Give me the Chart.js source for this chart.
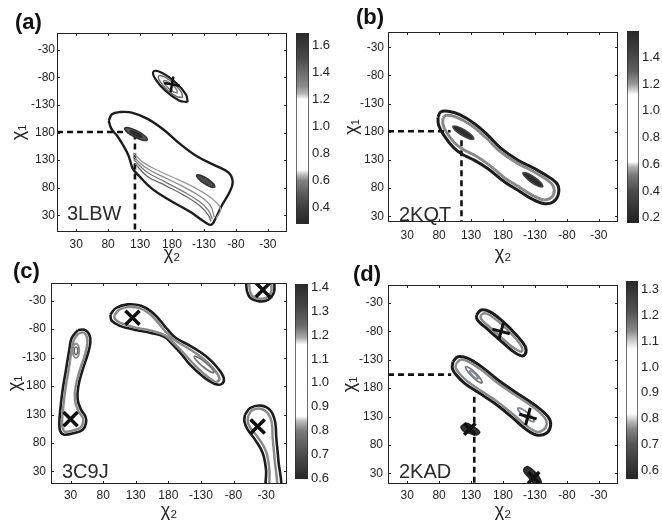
<!DOCTYPE html>
<html>
<head>
<meta charset="utf-8">
<script src="https://cdn.jsdelivr.net/npm/chart.js@4.4.1/dist/chart.umd.min.js"></script>
<style>
  body { margin: 0; background: #fff; }
  #wrap { position: relative; width: 662px; height: 520px; overflow: hidden; }
  canvas { position: absolute; }
</style>
</head>
<body>
<div id="wrap">
  <canvas id="pa" width="331" height="268" style="left:0;top:0"></canvas>
  <canvas id="pb" width="331" height="268" style="left:331px;top:0"></canvas>
  <canvas id="pc" width="331" height="260" style="left:0;top:260px"></canvas>
  <canvas id="pd" width="331" height="260" style="left:331px;top:260px"></canvas>
  <canvas id="ca" width="45" height="215" style="left:290px;top:20px"></canvas>
  <canvas id="cb" width="41" height="215" style="left:621px;top:20px"></canvas>
  <canvas id="cc" width="46" height="220" style="left:289px;top:270px"></canvas>
  <canvas id="cd" width="42" height="220" style="left:620px;top:270px"></canvas>
</div>
<script>
// angle ticks (chi2 / chi1), shown as -180..180
const angTicks = [30, 80, 130, 180, 230, 280, 330];

// ---- panel (a) 3LBW ----
const aOuter = [[81,201],[86,213],[99,217],[117,216],[141,205],[167,185],[193,159],[219,137],[248,120],[269,107],[275,90],[270,72],[258,48],[248,24],[241,13],[230,19],[209,36],[177,57],[149,78],[128,102],[119,114],[116,123],[112,138],[104,156],[94,174],[85,187]];
const aFan1 = [[119,143],[136,125],[162,109],[193,93],[219,78],[243,60],[256,42],[249,24]];
const aFan2 = [[119,137],[138,117],[164,101],[196,83],[222,66],[240,48],[246,27]];
const aFan3 = [[120,131],[140,109],[167,92],[198,73],[223,55],[237,39],[243,23]];
const aFan4 = [[121,125],[141,101],[170,84],[201,65],[224,47],[237,30],[241,19]];
const aPeak1 = [[142,166],[138.7,172.8],[127,182],[113.5,188.2],[106,188],[109.3,181.2],[121,172],[134.5,165.8]];
const aPeak1b = [[133.9,170.9],[132.1,174.6],[125.7,179.8],[118.3,183.2],[114.1,183.1],[115.9,179.4],[122.4,174.3],[129.7,170.8]];
const aPeak2 = [[247.5,80.7],[245.4,86.7],[236.3,95.7],[225.4,102.3],[218.9,102.9],[221,96.9],[230.1,87.9],[241,81.3]];
const aUp1 = [[204.5,234.9],[202,248.6],[185.8,270.4],[164.8,287.6],[151.3,290.7],[153.8,277],[170,255.2],[191,238]];
const aUp2 = [[196.5,243.3],[194.8,252.8],[183.4,268.1],[168.8,280.2],[159.3,282.3],[161,272.8],[172.4,257.5],[187,245.4]];
const aUp3 = [[188.5,251.6],[187.5,257.1],[181.1,265.8],[172.7,272.7],[167.3,274],[168.3,268.5],[174.7,259.8],[183.1,252.9]];
const aPlus = [[180,267]];
const aDashH = [[0,181],[120,181]];
const aDashV = [[122,178],[122,0]];

// ---- panel (b) 2KQT ----
const bOuter = [[78.3,206.2],[82.4,215.1],[93.9,216.3],[112.2,210.4],[135.6,194.4],[156.5,173.7],[177.4,150.1],[203.5,129.4],[229.5,114.6],[255.6,96.9],[266.1,85],[266.1,67.3],[258.2,55.5],[245.2,52.5],[224.3,61.4],[203.5,76.2],[182.6,91],[156.5,114.6],[135.6,129.4],[114.8,141.2],[101.7,153],[87.6,173.7],[79.3,191.5]];
const bInner = [[86.1,204.5],[91.3,209.2],[107,206.2],[130.4,191.5],[153.9,169],[174.8,145.9],[200.9,125.3],[226.9,109.9],[250.4,93.9],[259.3,82.1],[259.3,69.1],[253,61.4],[242.6,59.6],[224.3,68.5],[203.5,83.3],[182.6,98.1],[159.1,120.5],[138.3,136.5],[117.4,148.9],[104.3,160.1],[91.3,179.6],[86.1,192.6]];
const bPeak1 = [[134.7,166.7],[131.8,173],[121.1,182.3],[108.7,189.2],[101.7,189.7],[104.6,183.4],[115.3,174.1],[127.8,167.3]];
const bPeak2 = [[242.6,82.1],[240.1,88.6],[230.2,98.7],[218.3,106.4],[211.4,107.5],[213.9,101],[223.8,90.9],[235.7,83.2]];
const bDashH = [[0,181],[98,181]];
const bDashV = [[115,165],[115,20]];

// ---- panel (c) 3C9J ----
const cLeft = [[40.9,277.9],[51.1,279],[58.8,270.3],[60.3,255.6],[56.2,235.1],[48.6,208.8],[41.9,179.5],[40.9,156.1],[46,138.6],[52.7,126.8],[53.7,115.1],[48.6,103.4],[35.8,97.6],[20.5,94.6],[14.3,100.5],[12.8,115.1],[14.3,138.6],[17.9,173.7],[23,208.8],[28.1,243.9],[31.7,264.4]];
const cLeftIn = [[42.9,273.2],[50.1,273.8],[54.7,267.3],[55.7,254.5],[52.2,235.1],[44.5,208.8],[37.8,179.5],[36.8,154.9],[41.9,136.2],[48.6,124.5],[49.1,115.1],[45,106.9],[34.8,102.3],[21.5,99.9],[18.4,104.6],[16.9,115.1],[18.4,138.6],[22,173.7],[27.1,208.8],[31.7,243.9],[35.8,262.7]];
const cLeftPeak = [[38.3,255.2],[41.8,251.4],[43.3,242.2],[41.8,233],[38.3,229.2],[34.8,233],[33.3,242.2],[34.8,251.4]];
const cLeftPeak2 = [[38.3,249],[40.3,246.5],[41,242],[40.3,237.5],[38.3,235],[36.3,237.5],[35.6,242],[36.3,246.5]];
const cMid = [[91,305.4],[99.7,317.1],[117.6,323.5],[138.1,321.2],[153.4,311.2],[166.2,296.6],[179,279],[191.7,264.4],[214.7,249.8],[237.8,232.2],[255.7,211.7],[264.9,194.2],[261.8,183.6],[250.5,184.2],[232.6,197.1],[214.7,215.8],[199.4,236.9],[186.6,252.7],[173.8,266.2],[153.4,273.2],[127.8,279],[104.8,286.1],[93.1,294.8]];
const cMidIn = [[97.1,304.2],[104.8,314.2],[118.6,318.9],[137,316.5],[150.3,307.7],[162.6,293.7],[176.4,274.9],[190.2,260.3],[212.2,245.1],[234.2,227.5],[250.5,208.8],[258.2,194.2],[255.7,188.3],[249.5,188.9],[234.2,201.8],[217.3,220.5],[202,239.8],[188.2,255.6],[174.9,269.1],[153.4,277.3],[127.8,283.1],[106.4,290.8],[98.2,297.8]];
const cMidPeak = [[250.5,203],[247.9,209.4],[238,220.5],[226.5,229.8],[219.9,232.2],[222.5,225.8],[232.4,214.7],[243.9,205.4]];
const cTop = [[300.6,346.4],[305.8,334.7],[319.6,328.8],[333.4,331.7],[341.6,343.4],[342.6,358.1],[341.6,369.8],[301.7,369.8],[299.6,358.1]];
const cTopIn = [[305.3,346.4],[309.3,337.6],[320.1,333.5],[331.3,335.8],[337.5,344.6],[338,358.1],[337.5,369.8],[305.8,369.8],[304.2,358.1]];
const cBot = [[297.6,129.8],[305.8,141.5],[322.1,145.6],[336.4,137.4],[343.6,118.1],[345.6,88.8],[348.7,50.7],[351.8,-7.8],[331.3,-7.8],[329.8,33.2],[324.7,62.4],[312.9,85.9],[301.7,103.4],[296.6,118.1]];
const cBotIn = [[302.7,128],[308.3,137.4],[321.1,140.3],[332.3,132.7],[338.5,116.3],[340,88.8],[343.1,50.7],[346.7,-7.8],[336.4,-7.8],[334.9,33.2],[329.8,65.4],[317,90.5],[305.8,106.4],[301.7,118.1]];
const cX = [[30,122],[125,300],[325,349],[317,109]];

// ---- panel (d) 2KAD ----
const dUp = [[138.3,309.1],[146.1,317.9],[159.1,315],[180,297.3],[200.9,273.8],[214.9,253.2],[214.9,240.3],[207.6,237.4],[193,247.4],[172.2,267.9],[151.3,288.5],[139.8,300.3]];
const dUpIn = [[144.5,307.9],[150.3,312],[159.1,309.1],[177.4,293.2],[197.2,270.9],[209.7,252.1],[208.7,244.4],[194.1,253.2],[174.8,272],[155.5,291.5],[146.1,301.4]];
const dMid = [[101.7,226.8],[109.6,235.6],[125.2,232.7],[146.1,218],[172.2,194.4],[198.2,173.9],[229.5,150.4],[250.4,129.8],[254.6,115.1],[247.8,100.4],[232.2,97.5],[213.9,109.2],[193,129.8],[166.9,153.3],[143.5,170.9],[120,188.6],[106.9,203.3],[100.7,215]];
const dMidIn = [[106.9,223.8],[113.7,230.3],[125.2,227.4],[145,213.3],[171.1,189.7],[197.2,169.2],[226.9,146.8],[245.2,128],[248.3,116.3],[243.1,106.3],[232.2,103.3],[216,114.5],[195.6,133.9],[169.6,157.4],[146.1,175],[123.6,192.7],[111.1,206.8],[105.9,216.2]];
const dPeak1 = [[147.6,188.6],[145.8,194.8],[137.6,205.9],[127.6,215.4],[121.6,218],[123.4,211.8],[131.6,200.7],[141.6,191.2]];
const dPeak1b = [[141.1,196],[140.4,199.3],[136.4,204.9],[131.3,209.5],[128.1,210.7],[128.8,207.3],[132.8,201.7],[137.9,197.1]];
const dPeak2 = [[229.5,120.7],[227.6,126.4],[219.3,135.7],[209.4,143.2],[203.5,144.7],[205.4,139],[213.7,129.7],[223.6,122.2]];
const dBlob1 = [[113.7,112.1],[122.6,118],[133,112.1],[143.5,103.3],[138.3,97.4],[127.8,100.4],[117.4,105.1]];
const dBlob2 = [[212.9,38.7],[219.1,41.6],[229.5,32.8],[238.9,18.1],[237.4,9.3],[229.5,11],[219.1,24],[212.9,32.8]];
const dPlus = [[177,280],[219,130]];
const dX = [[128,108],[228,22]];
const dDashH = [[0,204],[99,204]];
const dDashV = [[135,165],[135,11]];

// ---- colorbars ----
const aBar = [0.28, 1.69];
const aBarTicks = [0.4, 0.6, 0.8, 1.0, 1.2, 1.4, 1.6];
const aStops = [[1.69,'#2b2b2b'],[1.52,'#454545'],[1.42,'#666'],[1.3,'#8a8a8a'],[1.24,'#b8b8b8'],[1.2,'#fff'],[0.68,'#fff'],[0.65,'#c4c4c4'],[0.6,'#828282'],[0.5,'#5a5a5a'],[0.4,'#3d3d3d'],[0.28,'#262626']];
const bBar = [0.16, 1.6];
const bBarTicks = [0.2, 0.4, 0.6, 0.8, 1.0, 1.2, 1.4];
const bStops = [[1.6,'#2a2a2a'],[1.45,'#404040'],[1.3,'#5e5e5e'],[1.2,'#9a9a9a'],[1.15,'#d8d8d8'],[1.12,'#fff'],[0.62,'#fff'],[0.58,'#b0b0b0'],[0.52,'#7a7a7a'],[0.4,'#4c4c4c'],[0.25,'#303030'],[0.16,'#222']];
const cBar = [0.595, 1.415];
const cBarTicks = [0.6, 0.7, 0.8, 0.9, 1.0, 1.1, 1.2, 1.3, 1.4];
const cStops = [[1.415,'#2a2a2a'],[1.32,'#454545'],[1.24,'#6a6a6a'],[1.19,'#a8a8a8'],[1.16,'#fff'],[0.86,'#fff'],[0.84,'#bcbcbc'],[0.8,'#7c7c7c'],[0.72,'#555'],[0.64,'#383838'],[0.595,'#262626']];
const dBar = [0.565, 1.334];
const dBarTicks = [0.6, 0.7, 0.8, 0.9, 1.0, 1.1, 1.2, 1.3];
const dStops = [[1.334,'#2a2a2a'],[1.22,'#505050'],[1.14,'#8a8a8a'],[1.1,'#d0d0d0'],[1.07,'#fff'],[0.82,'#fff'],[0.79,'#bcbcbc'],[0.76,'#858585'],[0.7,'#555'],[0.62,'#383838'],[0.565,'#262626']];

const FONT = '"Liberation Sans", Arial, sans-serif';
const DARK = '#1c1c1c';
const GRAY = '#8a8a8a';

const toXY = arr => arr.map(([x, y]) => ({ x, y }));
const closed = arr => arr.concat([arr[0]]);
const angLabel = v => (v > 180 ? v - 360 : v);

function curve(arr, color, width, extra) {
    return Object.assign({ data: toXY(arr), borderColor: color, borderWidth: width, pointRadius: 0,
        tension: 0.4, fill: false, order: 1 }, extra);
}
function ring(arr, color, width, extra) { return curve(closed(arr), color, width, extra); }
function blob(arr, fillCol, color, width) {
    return ring(arr, color, width, { fill: 'shape', backgroundColor: fillCol });
}
function dash(arr) { return curve(arr, '#111', 2.6, { tension: 0, borderDash: [6, 4], order: 2 }); }
function marks(arr, style, r, w, rot) {
    return { data: toXY(arr), showLine: false, pointStyle: style, pointRadius: r, borderWidth: w,
        borderColor: '#111', backgroundColor: '#111', pointRotation: rot || 0, order: 0 };
}

// box, inward ticks, structure name and panel tag
const frame = {
    id: 'frame',
    afterDatasetsDraw(chart, args, o) {
        const { ctx, chartArea: a, scales: { x, y } } = chart;
        ctx.save();
        ctx.strokeStyle = '#222';
        ctx.lineWidth = 1;
        ctx.strokeRect(a.left + 0.5, a.top + 0.5, a.width - 1, a.height - 1);
        ctx.beginPath();
        x.ticks.forEach(t => {
            const px = Math.round(x.getPixelForValue(t.value)) + 0.5;
            ctx.moveTo(px, a.bottom); ctx.lineTo(px, a.bottom - 3);
            ctx.moveTo(px, a.top); ctx.lineTo(px, a.top + 3);
        });
        y.ticks.forEach(t => {
            const py = Math.round(y.getPixelForValue(t.value)) + 0.5;
            ctx.moveTo(a.left, py); ctx.lineTo(a.left + 3, py);
            ctx.moveTo(a.right, py); ctx.lineTo(a.right - 3, py);
        });
        ctx.stroke();
        ctx.fillStyle = '#2a2a2a';
        ctx.font = '20px ' + FONT;
        ctx.fillText(o.name, a.left + o.nx, a.bottom - o.ny);
        ctx.fillStyle = '#111';
        ctx.font = 'bold 22px ' + FONT;
        ctx.fillText(o.tag, o.tx, o.ty);
        ctx.restore();
    }
};

function panel(id, p) {
    new Chart(document.getElementById(id), {
        type: 'line',
        data: { datasets: p.sets },
        options: {
            responsive: false, animation: false, events: [],
            layout: { padding: { left: 0, top: p.top, right: 44, bottom: 0 } },
            plugins: {
                legend: { display: false }, tooltip: { enabled: false },
                frame: { name: p.name, tag: p.tag, tx: p.tx, ty: p.ty, nx: p.nx, ny: p.ny }
            },
            scales: {
                x: {
                    type: 'linear', min: p.xr[0], max: p.xr[1],
                    afterBuildTicks: s => { s.ticks = angTicks.map(v => ({ value: v })); },
                    afterFit: s => { s.height = p.xh; },
                    grid: { display: false, drawTicks: false }, border: { display: false },
                    ticks: { padding: p.xpad, color: '#222', autoSkip: false, maxRotation: 0,
                        font: { size: 12, family: FONT }, callback: v => angLabel(v) },
                    title: { display: true, text: 'χ₂', color: '#222',
                        font: { size: 18, family: FONT, lineHeight: 1 }, padding: { top: 0, bottom: p.pb } }
                },
                y: {
                    type: 'linear', min: p.yr[0], max: p.yr[1],
                    afterBuildTicks: s => { s.ticks = angTicks.map(v => ({ value: v })); },
                    afterFit: s => { s.width = p.yw; },
                    grid: { display: false, drawTicks: false }, border: { display: false },
                    ticks: { padding: p.ypad, color: '#222', autoSkip: false,
                        font: { size: 12, family: FONT }, callback: v => angLabel(v) },
                    title: { display: true, text: 'χ₁', color: '#222',
                        font: { size: 18, family: FONT, lineHeight: 1 }, padding: { top: p.pt, bottom: 0 } }
                }
            }
        },
        plugins: [frame]
    });
}

function barFill(c, stops) {
    const chart = c.chart, a = chart.chartArea;
    if (!a) return '#888';
    const y = chart.scales.y;
    const g = chart.ctx.createLinearGradient(0, a.bottom, 0, a.top);
    stops.forEach(([v, col]) => {
        const off = (y.getPixelForValue(v) - a.bottom) / (a.top - a.bottom);
        g.addColorStop(Math.min(1, Math.max(0, off)), col);
    });
    return g;
}

function colorbar(id, range, ticks, stops, pad, w) {
    new Chart(document.getElementById(id), {
        type: 'bar',
        data: { labels: [''], datasets: [{ data: [range], backgroundColor: c => barFill(c, stops),
            borderColor: '#2a2a2a', borderWidth: 1, borderSkipped: false,
            barPercentage: 1, categoryPercentage: 1 }] },
        options: {
            responsive: false, animation: false, events: [],
            layout: { padding: { left: pad[0], top: pad[1], right: 0, bottom: pad[2] } },
            plugins: { legend: { display: false }, tooltip: { enabled: false } },
            scales: {
                x: { display: false },
                y: {
                    position: 'right', min: range[0], max: range[1],
                    afterBuildTicks: s => { s.ticks = ticks.map(v => ({ value: v })); },
                    afterFit: s => { s.width = w; },
                    grid: { display: false, drawTicks: false }, border: { display: false },
                    ticks: { padding: 3, color: '#222', font: { size: 13, family: FONT },
                        callback: v => Number(v).toFixed(1) }
                }
            }
        }
    });
}

panel('pa', {
    xr: [0, 360], yr: [0, 360], top: 33, xh: 36, yw: 57, xpad: 5, ypad: 2, pt: 10.5, pb: 4.5,
    name: '3LBW', nx: 10, ny: 12, tag: '(a)', tx: 15, ty: 29,
    sets: [
        marks(aPlus, 'cross', 8, 2.5, 10),
        blob(aPeak1b, '#2a2a2a', '#333', 1.2),
        blob(aPeak1, '#5a5a5a', '#333', 1.5),
        blob(aPeak2, '#4a4a4a', '#333', 1.5),
        ring(aUp3, '#777', 1.4),
        ring(aUp2, '#666', 1.4),
        ring(aUp1, DARK, 2.2),
        curve(aFan1, '#999', 1.3),
        curve(aFan2, '#888', 1.3),
        curve(aFan3, '#777', 1.3),
        curve(aFan4, '#666', 1.3),
        ring(aOuter, DARK, 2.4),
        dash(aDashH), dash(aDashV)
    ]
});

panel('pb', {
    xr: [0, 360], yr: [20, 357], top: 32, xh: 46, yw: 57, xpad: 6, ypad: 4, pt: 12.5, pb: 4.5,
    name: '2KQT', nx: 11, ny: 1, tag: '(b)', tx: 25, ty: 24,
    sets: [
        blob(bPeak1, '#2e2e2e', '#444', 1.5),
        blob(bPeak2, '#2e2e2e', '#444', 1.5),
        ring(bInner, GRAY, 3),
        ring(bOuter, DARK, 3),
        dash(bDashH), dash(bDashV)
    ]
});

panel('pc', {
    xr: [0, 362], yr: [8, 361], top: 23, xh: 36, yw: 51, xpad: 4, ypad: 5, pt: 6.5, pb: 0,
    name: '3C9J', nx: 11, ny: 6, tag: '(c)', tx: 13, ty: 18,
    sets: [
        marks(cX, 'crossRot', 10, 3.5),
        ring(cLeftPeak2, '#666', 1.5),
        ring(cLeftPeak, '#888', 1.8),
        ring(cMidPeak, '#777', 1.8),
        ring(cLeftIn, GRAY, 2.5),
        ring(cMidIn, GRAY, 2.5),
        ring(cTopIn, GRAY, 2.5),
        ring(cBotIn, GRAY, 2.5),
        ring(cLeft, DARK, 2.6),
        ring(cMid, DARK, 2.6),
        ring(cTop, DARK, 2.6),
        ring(cBot, DARK, 2.6)
    ]
});

panel('pd', {
    xr: [0, 360], yr: [11, 362], top: 25, xh: 36, yw: 57, xpad: 4, ypad: 5, pt: 10.5, pb: 0,
    name: '2KAD', nx: 11, ny: 6, tag: '(d)', tx: 22, ty: 21,
    sets: [
        marks(dPlus, 'cross', 9, 3, 15),
        marks(dX, 'crossRot', 8, 3.5),
        blob(dBlob1, '#333', '#222', 1.5),
        blob(dBlob2, '#333', '#222', 1.5),
        ring(dPeak1b, '#7a8595', 1.5),
        ring(dPeak1, '#7a7a7a', 1.8),
        ring(dPeak2, '#7a8595', 1.8),
        ring(dUpIn, GRAY, 2.5),
        ring(dMidIn, GRAY, 2.5),
        ring(dUp, DARK, 3),
        ring(dMid, DARK, 3),
        dash(dDashH), dash(dDashV)
    ]
});

colorbar('ca', aBar, aBarTicks, aStops, [6, 13, 11], 26);
colorbar('cb', bBar, bBarTicks, bStops, [6, 10, 12], 23);
colorbar('cc', cBar, cBarTicks, cStops, [6, 14, 8], 27);
colorbar('cd', dBar, dBarTicks, dStops, [6, 11, 8], 24);
</script>
</body>
</html>
